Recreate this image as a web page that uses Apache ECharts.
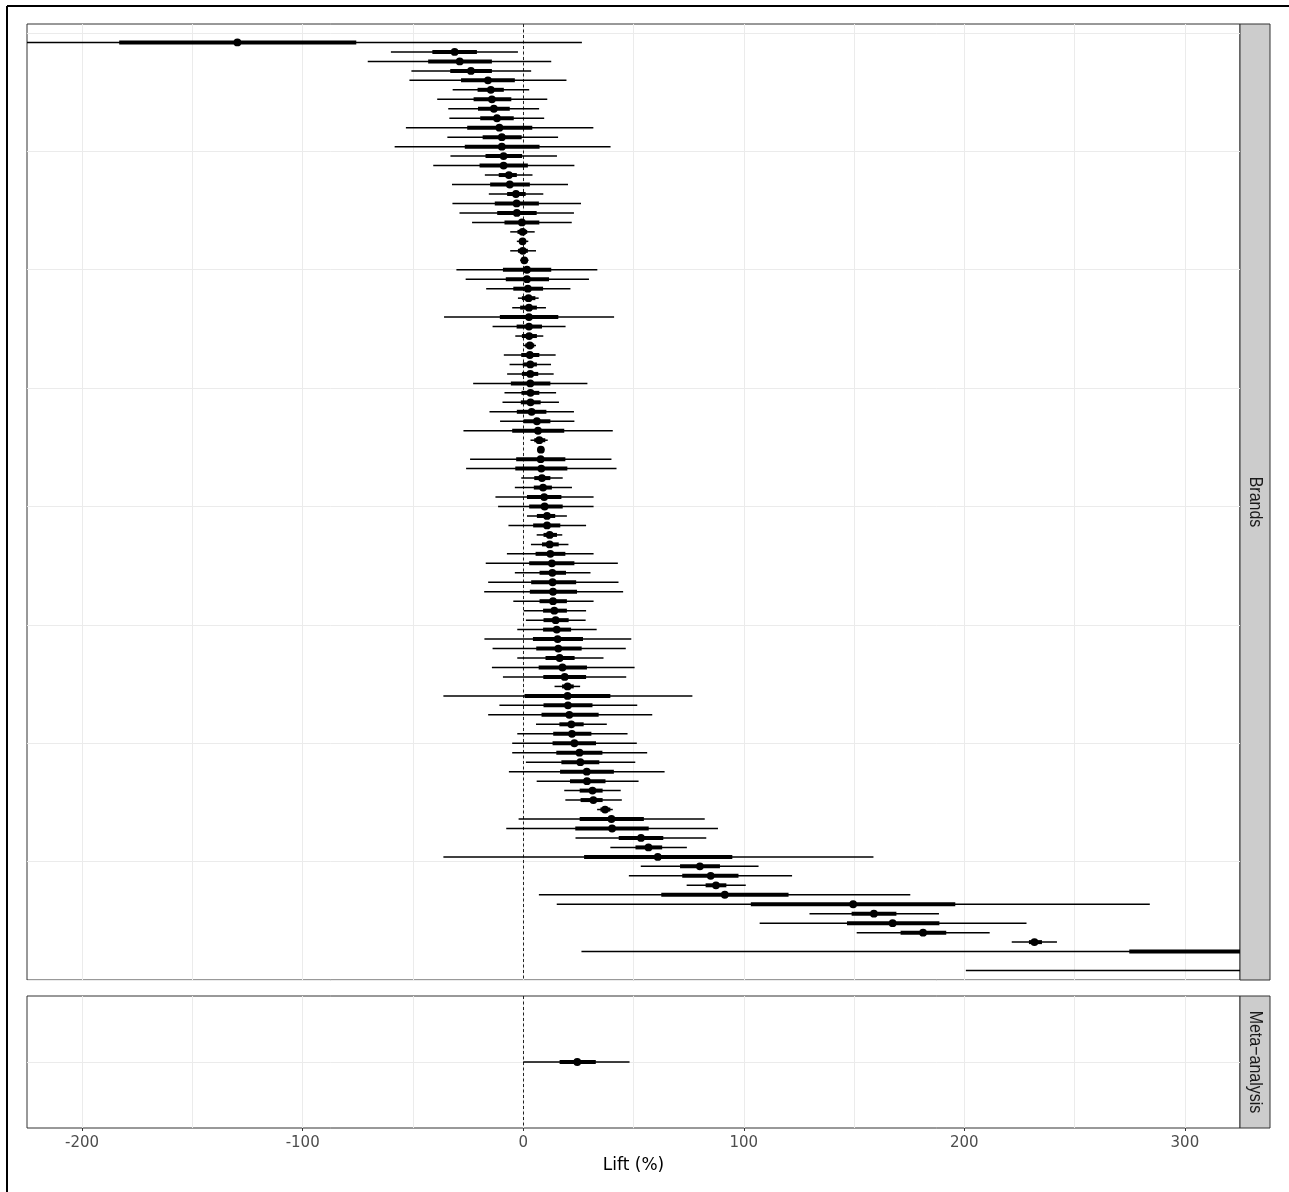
<!DOCTYPE html>
<html>
<head>
<meta charset="utf-8">
<script src="https://cdn.jsdelivr.net/npm/echarts@6/dist/echarts.min.js"></script>
<style>
html,body{margin:0;padding:0;background:#fff;}
#chart{width:1289px;height:1192px;}
</style>
</head>
<body>
<div id="chart"></div>
<script>
// Brand rows, top to bottom (row 98 lies entirely beyond the plotted range)
const est  = [-129.6,-31.1,-28.8,-23.7,-16.0,-14.7,-14.2,-13.3,-11.9,-10.8,-9.7,-9.7,-8.9,-8.9,-6.5,-6.1,-3.3,-3.0,-2.9,-0.6,-0.3,-0.3,-0.2,0.5,1.7,1.7,2.1,2.4,2.6,2.6,2.6,2.7,3.0,3.0,3.2,3.2,3.2,3.3,3.3,3.8,6.2,6.7,7.3,8.0,7.9,8.2,8.5,9.0,9.5,9.7,10.8,10.8,12.0,12.0,12.3,13.0,13.2,13.3,13.5,13.5,14.1,14.7,15.2,15.6,15.9,16.5,17.8,18.8,20.1,20.1,20.3,20.9,21.8,22.1,23.2,25.5,25.9,28.8,28.9,31.4,31.8,37.1,40.0,40.3,53.4,56.8,61.0,80.1,85.0,87.4,91.4,149.6,159.0,167.5,181.3,231.8,405,null,620];
const lo95 = [-285.8,-60.0,-70.5,-50.7,-51.6,-32.0,-39.0,-34.0,-33.5,-53.2,-34.4,-58.3,-33.0,-40.8,-17.4,-32.3,-15.6,-32.1,-28.9,-23.2,-5.9,-2.9,-5.9,-1.4,-30.3,-26.1,-16.8,-2.4,-5.0,-35.9,-13.9,-3.6,0.2,-8.8,-6.2,-7.3,-22.7,-8.5,-9.4,-15.3,-10.5,-27.1,3.3,6.5,-24.1,-25.9,-0.9,-3.8,-12.6,-11.4,1.7,-6.7,6.1,3.5,-7.4,-17.0,-3.8,-15.9,-17.7,-4.5,0.2,1.2,-2.7,-17.6,-13.9,-2.7,-14.2,-9.2,14.2,-36.2,-10.8,-15.9,5.8,-2.7,-5.0,-5.0,1.2,-6.5,6.1,18.6,19.1,33.5,-2.1,-7.7,23.7,39.5,-36.2,53.3,47.9,74.1,7.1,15.2,129.8,107.2,151.2,221.5,26.4,null,200.7];
const lo50 = [-183.2,-41.2,-43.1,-33.1,-28.2,-20.7,-22.5,-20.5,-19.5,-25.4,-18.4,-26.5,-17.1,-19.8,-11.1,-15.0,-7.3,-12.9,-11.8,-8.5,-2.6,-1.8,-2.4,-0.6,-9.2,-7.9,-4.5,-0.6,-1.4,-10.6,-3.0,-0.6,0.9,-0.9,-0.2,-0.6,-5.6,-0.8,-1.1,-2.9,0.2,-5.0,5.0,7.0,-3.2,-3.6,5.0,4.8,1.7,2.7,6.2,4.5,9.2,8.5,5.6,2.7,7.4,3.6,3.0,7.4,9.0,9.2,9.0,4.4,5.9,10.1,7.0,9.1,17.6,0.6,9.2,8.3,16.4,13.6,13.3,15.0,17.3,16.7,21.2,25.6,26.0,35.0,25.6,23.6,43.3,50.9,27.6,71.1,72.1,82.7,62.6,103.2,148.9,146.8,171.1,229.3,274.8,null,476];
const hi50 = [-75.7,-21.0,-14.2,-14.2,-3.8,-8.8,-5.4,-6.1,-4.3,4.1,-0.7,7.4,-0.5,2.1,-2.9,3.0,1.1,7.1,6.1,7.3,1.8,1.2,2.1,1.7,12.7,11.7,9.0,5.5,6.2,15.9,8.5,6.2,5.0,7.3,6.2,6.8,12.3,7.3,7.9,10.5,12.3,18.6,10.0,9.0,19.1,20.0,12.3,13.0,17.3,17.9,14.5,16.8,15.3,16.1,19.1,23.2,19.4,24.0,24.4,19.8,19.8,20.6,21.7,27.1,26.5,23.3,28.9,28.5,22.9,39.5,31.4,34.2,27.4,30.9,33.0,35.9,34.5,41.1,37.3,36.0,36.0,39.5,54.7,56.9,63.5,63.0,94.8,89.2,97.6,92.1,120.3,195.9,169.2,188.7,191.8,235.2,535,null,764];
const hi95 = [26.6,-2.4,12.7,3.6,19.6,2.7,10.9,7.2,9.5,31.8,15.8,39.6,15.3,23.2,4.2,20.3,9.1,26.2,23.0,22.0,5.2,2.3,5.8,2.4,33.6,29.8,21.4,7.0,10.3,41.2,19.2,9.1,5.8,14.7,12.6,13.8,29.1,14.9,16.2,23.0,23.2,40.6,11.1,9.5,40.0,42.3,17.9,22.1,31.9,31.9,19.8,28.5,17.7,20.5,31.9,42.9,30.5,43.2,45.3,31.9,28.5,28.3,33.3,49.0,46.5,36.4,50.5,46.7,25.8,76.7,51.7,58.5,37.9,47.3,51.5,56.2,50.8,64.1,52.3,44.2,44.7,40.6,82.3,88.3,83.0,74.2,158.8,106.7,121.9,100.9,175.5,284.1,188.5,228.2,211.5,242.0,783,null,1039];

// Meta-analysis row
const metaEst = [24.5], metaLo95 = [0.0], metaLo50 = [16.5], metaHi50 = [32.9], metaHi95 = [48.2];

const xTicks = [-200, -100, 0, 100, 200, 300];
const xGrid = [-200, -150, -100, -50, 0, 50, 100, 150, 200, 250, 300];
const yGrid = [0, 12.5, 25, 37.5, 50, 62.5, 75, 87.5, 100];
const panelNames = ['Brands', 'Meta\u2212analysis'];

const brandData = [];
for (let i = 0; i < est.length; i++) {
  if (est[i] === null) continue;
  brandData.push([est[i], lo95[i], hi95[i], lo50[i], hi50[i], i + 1]);
}
const metaData = metaEst.map((v, i) => [v, metaLo95[i], metaHi95[i], metaLo50[i], metaHi50[i], 1]);

function renderItem(params, api) {
  const row = api.value(5);
  const a = api.coord([api.value(1), row]);
  const b = api.coord([api.value(2), row]);
  const c = api.coord([api.value(3), row]);
  const d = api.coord([api.value(4), row]);
  const p = api.coord([api.value(0), row]);
  return {
    type: 'group',
    children: [
      {type: 'line', shape: {x1: a[0], y1: a[1], x2: b[0], y2: b[1]}, style: {stroke: '#000', lineWidth: 1.5}},
      {type: 'line', shape: {x1: c[0], y1: c[1], x2: d[0], y2: d[1]}, style: {stroke: '#000', lineWidth: 4}},
      {type: 'circle', shape: {cx: p[0], cy: p[1], r: 3.9}, style: {fill: '#000'}}
    ]
  };
}

const gridStyle = {show: true, borderColor: '#333333', borderWidth: 1, backgroundColor: '#fff'};
const splitX = {show: true, lineStyle: {color: '#EBEBEB', width: 1}};
const zeroLine = {silent: true, symbol: 'none', label: {show: false},
  lineStyle: {color: '#222', width: 1, type: [3, 2.5]}, data: [{xAxis: 0}]};

const chart = echarts.init(document.getElementById('chart'), null, {renderer: 'canvas'});
chart.setOption({
  backgroundColor: '#fff',
  animation: false,
  textStyle: {fontFamily: 'Liberation Sans, Arial, sans-serif'},
  grid: [
    Object.assign({left: 27, top: 24, width: 1213, height: 956}, gridStyle),
    Object.assign({left: 27, top: 996, width: 1213, height: 132}, gridStyle)
  ],
  xAxis: [
    {gridIndex: 0, type: 'value', min: -225, max: 325, position: 'bottom',
     axisLine: {show: false}, axisLabel: {show: false},
     axisTick: {show: false, customValues: xGrid}, splitLine: splitX},
    {gridIndex: 1, type: 'value', min: -225, max: 325, position: 'bottom',
     axisLine: {show: false}, axisLabel: {show: false},
     axisTick: {show: false, customValues: xGrid}, splitLine: splitX},
    {gridIndex: 1, type: 'value', min: -225, max: 325, position: 'bottom',
     axisLine: {show: false},
     axisTick: {show: true, length: 3, customValues: xTicks, lineStyle: {color: '#333333', width: 1}},
     axisLabel: {show: true, customValues: xTicks, color: '#4D4D4D', fontSize: 15,
       fontFamily: 'DejaVu Sans', margin: 8},
     splitLine: {show: false},
     name: 'Lift (%)', nameLocation: 'middle', nameGap: 29,
     nameTextStyle: {color: '#000', fontSize: 17, fontFamily: 'DejaVu Sans'}}
  ],
  yAxis: [
    {gridIndex: 0, type: 'value', min: -0.95, max: 100, inverse: true,
     axisLine: {show: false}, axisLabel: {show: false},
     axisTick: {show: false, customValues: yGrid},
     splitLine: {show: true, lineStyle: {color: '#EBEBEB', width: 1}}},
    {gridIndex: 1, type: 'value', min: 0, max: 2, inverse: true,
     axisLine: {show: false}, axisLabel: {show: false},
     axisTick: {show: false, customValues: [1]},
     splitLine: {show: true, lineStyle: {color: '#EBEBEB', width: 1}}}
  ],
  series: [
    {type: 'scatter', xAxisIndex: 0, yAxisIndex: 0, data: [], silent: true, markLine: zeroLine},
    {type: 'scatter', xAxisIndex: 1, yAxisIndex: 1, data: [], silent: true, markLine: zeroLine},
    {type: 'custom', name: 'Brands', xAxisIndex: 0, yAxisIndex: 0, clip: true,
     renderItem: renderItem, data: brandData, z: 5},
    {type: 'custom', name: 'Meta-analysis', xAxisIndex: 1, yAxisIndex: 1, clip: true,
     renderItem: renderItem, data: metaData, z: 5}
  ],
  graphic: [
    {type: 'rect', shape: {x: 1240, y: 24, width: 30, height: 956},
     style: {fill: '#CCCCCC', stroke: '#333333', lineWidth: 1}},
    {type: 'text', x: 1255, y: 502, rotation: -Math.PI / 2, scaleY: 1.15,
     style: {text: panelNames[0], fill: '#1A1A1A', font: '16px "Liberation Sans", Arial, sans-serif',
       align: 'center', verticalAlign: 'middle'}},
    {type: 'rect', shape: {x: 1240, y: 996, width: 30, height: 132},
     style: {fill: '#CCCCCC', stroke: '#333333', lineWidth: 1}},
    {type: 'text', x: 1255, y: 1062, rotation: -Math.PI / 2, scaleY: 1.15,
     style: {text: panelNames[1], fill: '#1A1A1A', font: '16px "Liberation Sans", Arial, sans-serif',
       align: 'center', verticalAlign: 'middle'}},
    {type: 'line', shape: {x1: 7, y1: 6, x2: 1289, y2: 6}, style: {stroke: '#000', lineWidth: 2}},
    {type: 'line', shape: {x1: 7, y1: 6, x2: 7, y2: 1192}, style: {stroke: '#000', lineWidth: 2}}
  ]
});
</script>
</body>
</html>
